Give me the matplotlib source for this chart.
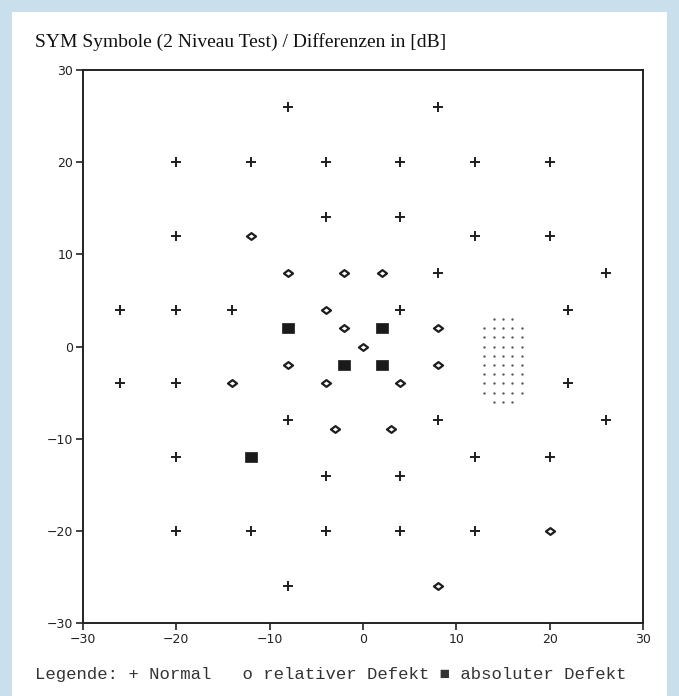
import matplotlib
matplotlib.use("Agg")
import matplotlib.pyplot as plt
from matplotlib.path import Path
from matplotlib.patches import Rectangle

# test points, in degrees
normal_x = [-8, 8, -20, -12, -4, 4, 12, 20, -4, 4, -20, 12, 20, 8, 26,
            -26, -20, -14, 4, 22, -26, -20, 22, -8, 8, 26, -20, 12, 20,
            -4, 4, -20, -12, -4, 4, 12, -8]
normal_y = [26, 26, 20, 20, 20, 20, 20, 20, 14, 14, 12, 12, 12, 8, 8,
            4, 4, 4, 4, 4, -4, -4, -4, -8, -8, -8, -12, -12, -12,
            -14, -14, -20, -20, -20, -20, -20, -26]

rel_x = [-12, -8, -2, 2, -4, -2, 8, 0, -8, 8, -14, -4, 4, -3, 3, 20, 8]
rel_y = [12, 8, 8, 8, 4, 2, 2, 0, -2, -2, -4, -4, -4, -9, -9, -20, -26]

abs_x = [-8, 2, -2, 2, -12]
abs_y = [2, 2, -2, -2, -12]

# blind spot grid
blind_rows = [3, 2, 1, 0, -1, -2, -3, -4, -5, -6]
blind_cols_inner = [13, 14, 15, 16, 17]
blind_cols_edge = [14, 15, 16]

title = "SYM Symbole (2 Niveau Test) / Differenzen in [dB]"
legend_text = "Legende: + Normal   o relativer Defekt \u25a0 absoluter Defekt"

W, H = 679, 696
fig = plt.figure(figsize=(W / 100, H / 100), dpi=100)
fig.patch.set_facecolor("#c9e0ec")
fig.patches.append(Rectangle((12 / W, 0), (W - 24) / W, (H - 12) / H,
                             transform=fig.transFigure, facecolor="white",
                             edgecolor="none", zorder=-10))

ax = fig.add_axes([83 / W, (H - 623) / H, 560 / W, 553 / H])
ax.set_zorder(1)
ax.set_xlim(-30, 30)
ax.set_ylim(-30, 30)

diamond = Path([(-1, 0), (0, 0.75), (1, 0), (0, -0.75), (-1, 0)],
               [Path.MOVETO, Path.LINETO, Path.LINETO, Path.LINETO, Path.CLOSEPOLY])
box = Path([(-1, -0.85), (1, -0.85), (1, 0.85), (-1, 0.85), (-1, -0.85)],
           [Path.MOVETO, Path.LINETO, Path.LINETO, Path.LINETO, Path.CLOSEPOLY])

ax.plot(normal_x, normal_y, linestyle="none", marker="+", markersize=7.5,
        markeredgewidth=1.4, color="#1e1e1e")
ax.plot(rel_x, rel_y, linestyle="none", marker=diamond, markersize=6.5,
        markeredgewidth=1.6, markerfacecolor="white", markeredgecolor="#1e1e1e")
ax.plot(abs_x, abs_y, linestyle="none", marker=box, markersize=8,
        markeredgewidth=0.5, color="#1a1a1a")

bx, by = [], []
for i, r in enumerate(blind_rows):
    cols = blind_cols_edge if i in (0, len(blind_rows) - 1) else blind_cols_inner
    for c in cols:
        bx.append(c)
        by.append(r)
ax.plot(bx, by, linestyle="none", marker="o", markersize=1.7,
        markeredgewidth=0, color="#555555")

ax.set_xticks([-30, -20, -10, 0, 10, 20, 30])
ax.set_yticks([-30, -20, -10, 0, 10, 20, 30])
ax.tick_params(direction="out", length=5, width=1.2, labelsize=9,
               colors="#222222", pad=2)
for s in ax.spines.values():
    s.set_linewidth(1.4)
    s.set_color("#222222")

fig.text(35 / W, 1 - 42 / H, title, family="Liberation Serif", fontsize=14,
         color="#111111", va="center", ha="left")
fig.text(35 / W, 1 - 675 / H, legend_text,
         family=["Liberation Mono", "DejaVu Sans Mono"], fontsize=12.4,
         color="#333333", va="center", ha="left")

fig.savefig("out.png", dpi=100)
